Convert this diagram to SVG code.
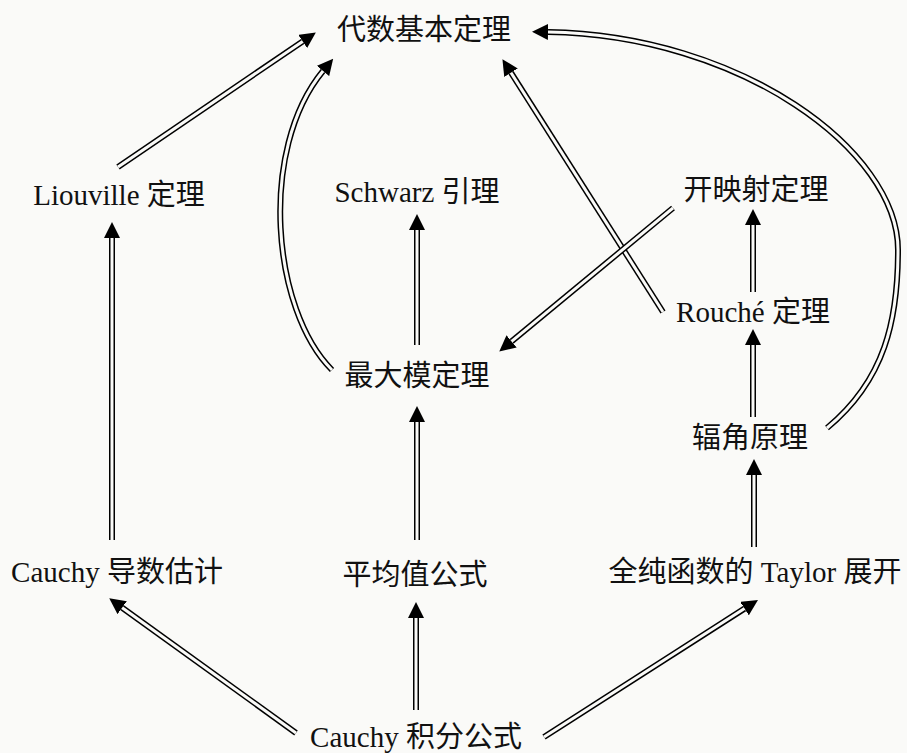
<svg xmlns="http://www.w3.org/2000/svg" width="907" height="753" viewBox="0 0 907 753">
<defs>
<marker id="ah" markerUnits="userSpaceOnUse" markerWidth="16" markerHeight="16" refX="0" refY="8" orient="auto">
<path d="M0,0 L16,8 L0,16 z" fill="#000"/>
</marker>
<style>
text{font-family:"Liberation Serif","Noto Sans CJK SC",serif;font-size:29px;fill:#111;text-anchor:middle}
.o{fill:none;stroke:#000;stroke-width:6;marker-end:url(#ah)}
.i{fill:none;stroke:#fafaf8;stroke-width:3}
</style>
</defs>
<rect width="907" height="753" fill="#fafaf8"/>
<g id="connectors">
<path class="o" d="M118,167 L302.6,41.4"/><path class="i" d="M118,167 L302.6,41.4"/>
<path class="o" d="M332,370 C272,310 258,150 323,71"/><path class="i" d="M332,370 C272,310 258,150 323,71"/>
<path class="o" d="M663,312 L511,72.7"/><path class="i" d="M663,312 L511,72.7"/>
<path class="o" d="M827,428 C885,380 898,320 898,250 C898,150 740,35 548,32"/><path class="i" d="M827,428 C885,380 898,320 898,250 C898,150 740,35 548,32"/>
<path class="o" d="M673,208 L511.6,341.4"/><path class="i" d="M673,208 L511.6,341.4"/>
<path class="o" d="M417,345 L417,230"/><path class="i" d="M417,345 L417,230"/>
<path class="o" d="M417,540 L417,422"/><path class="i" d="M417,540 L417,422"/>
<path class="o" d="M112,540 L112,238"/><path class="i" d="M112,540 L112,238"/>
<path class="o" d="M753,292 L753,225"/><path class="i" d="M753,292 L753,225"/>
<path class="o" d="M753,417 L753,345"/><path class="i" d="M753,417 L753,345"/>
<path class="o" d="M754,547 L754,475"/><path class="i" d="M754,547 L754,475"/>
<path class="o" d="M416,710 L416,618"/><path class="i" d="M416,710 L416,618"/>
<path class="o" d="M296,733 L122.2,607.7"/><path class="i" d="M296,733 L122.2,607.7"/>
<path class="o" d="M544,737 L744.5,608.6"/><path class="i" d="M544,737 L744.5,608.6"/>
</g>
<g id="n-fta"><text x="424" y="40">代数基本定理</text></g>
<g id="n-liouville"><text x="119" y="205">Liouville 定理</text></g>
<g id="n-schwarz"><text x="417" y="202">Schwarz 引理</text></g>
<g id="n-openmap"><text x="756" y="200">开映射定理</text></g>
<g id="n-rouche"><text x="753" y="322">Rouché 定理</text></g>
<g id="n-maxmod"><text x="417" y="386">最大模定理</text></g>
<g id="n-argument"><text x="750" y="448">辐角原理</text></g>
<g id="n-cauchyest"><text x="117" y="582">Cauchy 导数估计</text></g>
<g id="n-meanvalue"><text x="415" y="585">平均值公式</text></g>
<g id="n-taylor"><text x="755" y="582">全纯函数的 Taylor 展开</text></g>
<g id="n-cauchyint"><text x="416" y="747">Cauchy 积分公式</text></g>
</svg>
